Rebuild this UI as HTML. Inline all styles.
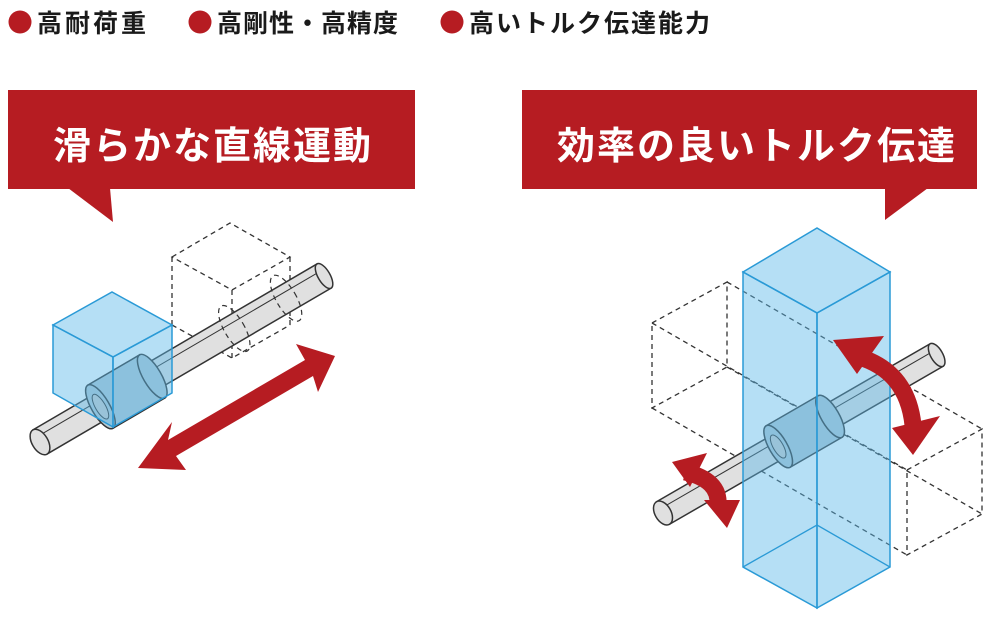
<!DOCTYPE html>
<html><head><meta charset="utf-8"><style>
html,body{margin:0;padding:0;background:#fff;}
body{width:1000px;height:614px;overflow:hidden;}
svg text{font-family:"Liberation Sans","Noto Sans CJK JP",sans-serif;font-weight:bold;}
</style></head><body>
<svg width="1000" height="614" viewBox="0 0 1000 614" xmlns="http://www.w3.org/2000/svg">
<!-- legend -->
<circle cx="20" cy="22" r="11.5" fill="#b61c22"/>
<text x="37" y="32" font-size="25" fill="#1a1a1a" letter-spacing="3">高耐荷重</text>
<circle cx="200" cy="22" r="11.5" fill="#b61c22"/>
<text x="217" y="32" font-size="25" fill="#1a1a1a" letter-spacing="1">高剛性・高精度</text>
<circle cx="452" cy="22" r="11.5" fill="#b61c22"/>
<text x="469" y="32" font-size="25" fill="#1a1a1a" letter-spacing="2">高いトルク伝達能力</text>

<!-- banners -->
<rect x="8" y="90" width="407" height="99" fill="#b61c22"/>
<polygon points="68,188 110,188 113,222" fill="#b61c22"/>
<text x="213" y="159" font-size="38" fill="#fff" text-anchor="middle" letter-spacing="2">滑らかな直線運動</text>
<rect x="522" y="90" width="455" height="99" fill="#b61c22"/>
<polygon points="885,188 928,188 885,220" fill="#b61c22"/>
<text x="757" y="159" font-size="38" fill="#fff" text-anchor="middle" letter-spacing="2">効率の良いトルク伝達</text>

<!-- LEFT DIAGRAM -->
<g stroke="#333" stroke-width="1.3" fill="none" stroke-dasharray="5,4">
<polygon points="172,257 230,223 290,257 232,290"/>
<line x1="172" y1="257" x2="172" y2="325"/><line x1="232" y1="290" x2="232" y2="358"/><line x1="290" y1="257" x2="290" y2="325"/>
<polyline points="172,325 232,358 290,325"/>
</g>
<g transform="translate(40,442) rotate(-30.3)">
<rect x="0" y="-14" width="329" height="28" fill="#e0e0e0" stroke="#333" stroke-width="1.5"/>
<line x1="0" y1="-6" x2="329" y2="-6" stroke="#333" stroke-width="1"/>
<ellipse cx="329" cy="0" rx="6" ry="14" fill="#e0e0e0" stroke="#333" stroke-width="1.5"/>
<ellipse cx="0" cy="0" rx="8" ry="14" fill="#e0e0e0" stroke="#333" stroke-width="1.5"/>
<ellipse cx="225" cy="0" rx="10" ry="26" fill="none" stroke="#333" stroke-width="1.2" stroke-dasharray="5,4"/>
<ellipse cx="285" cy="0" rx="10" ry="26" fill="none" stroke="#333" stroke-width="1.2" stroke-dasharray="5,4"/>
<rect x="70" y="-25" width="60" height="50" fill="#b5c9d3" stroke="#333" stroke-width="1.5"/>
<ellipse cx="130" cy="0" rx="9" ry="25" fill="#b5c9d3" stroke="#333" stroke-width="1.5"/>
<ellipse cx="70" cy="0" rx="9" ry="25" fill="#b5c9d3" stroke="#333" stroke-width="1.5"/>
<ellipse cx="70" cy="0" rx="5" ry="14" fill="#ccc" stroke="#333" stroke-width="1"/>
</g>
<g fill="#5ab8e8" fill-opacity="0.45" stroke="#2a9ad6" stroke-width="1.5">
<polygon points="53,325 112,292 172,325 113,357"/>
<polygon points="53,325 113,357 113,427 53,393"/>
<polygon points="113,357 172,325 172,393 113,427"/>
</g>
<g fill="#b61c22">
<polygon points="138,468 172,422 168,440 305,360 296,344 335,356 318,392 313,376 176,456 186,470"/>
</g>

<!-- RIGHT DIAGRAM -->
<g stroke="#333" stroke-width="1.3" fill="none" stroke-dasharray="5,4">
<polygon points="652,323 727,282 727,367 652,408"/>
<polygon points="907,470 982,429 982,514 907,555"/>
<line x1="652" y1="323" x2="907" y2="470"/><line x1="727" y1="282" x2="982" y2="429"/>
<line x1="652" y1="408" x2="907" y2="555"/><line x1="727" y1="367" x2="982" y2="514"/>
</g>
<g transform="translate(663,513) rotate(-30)">
<rect x="0" y="-13" width="316" height="26" fill="#e0e0e0" stroke="#333" stroke-width="1.5"/>
<line x1="0" y1="-5" x2="316" y2="-5" stroke="#333" stroke-width="1"/>
<ellipse cx="316" cy="0" rx="6" ry="13" fill="#e0e0e0" stroke="#333" stroke-width="1.5"/>
<ellipse cx="0" cy="0" rx="8" ry="13" fill="#e0e0e0" stroke="#333" stroke-width="1.5"/>
<rect x="133" y="-24" width="60" height="48" fill="#b5c9d3" stroke="#333" stroke-width="1.5"/>
<ellipse cx="193" cy="0" rx="9" ry="24" fill="#b5c9d3" stroke="#333" stroke-width="1.5"/>
<ellipse cx="133" cy="0" rx="9" ry="24" fill="#b5c9d3" stroke="#333" stroke-width="1.5"/>
<ellipse cx="133" cy="0" rx="5" ry="13" fill="#ccc" stroke="#333" stroke-width="1"/>
</g>
<g fill="#5ab8e8" fill-opacity="0.45" stroke="#2a9ad6" stroke-width="1.5">
<polygon points="743,272 817,228 890,272 817,313"/>
<polygon points="743,272 817,313 817,608 743,567"/>
<polygon points="817,313 890,272 890,567 817,608"/>
</g>
<polyline points="743,567 817,525 890,567" fill="none" stroke="#2a9ad6" stroke-width="1.3"/>
<g fill="none" stroke="#b61c22" stroke-width="17">
<path d="M852,355 Q907,368 913,425"/>
<path d="M685,472 Q720,480 718,505"/>
</g>
<g fill="#b61c22">
<polygon points="833,340 884,336 857,374"/>
<polygon points="892,428 940,416 913,455"/>
<polygon points="672,462 707,453 690,487"/>
<polygon points="704,500 740,500 727,528"/>
</g>
</svg>
</body></html>
